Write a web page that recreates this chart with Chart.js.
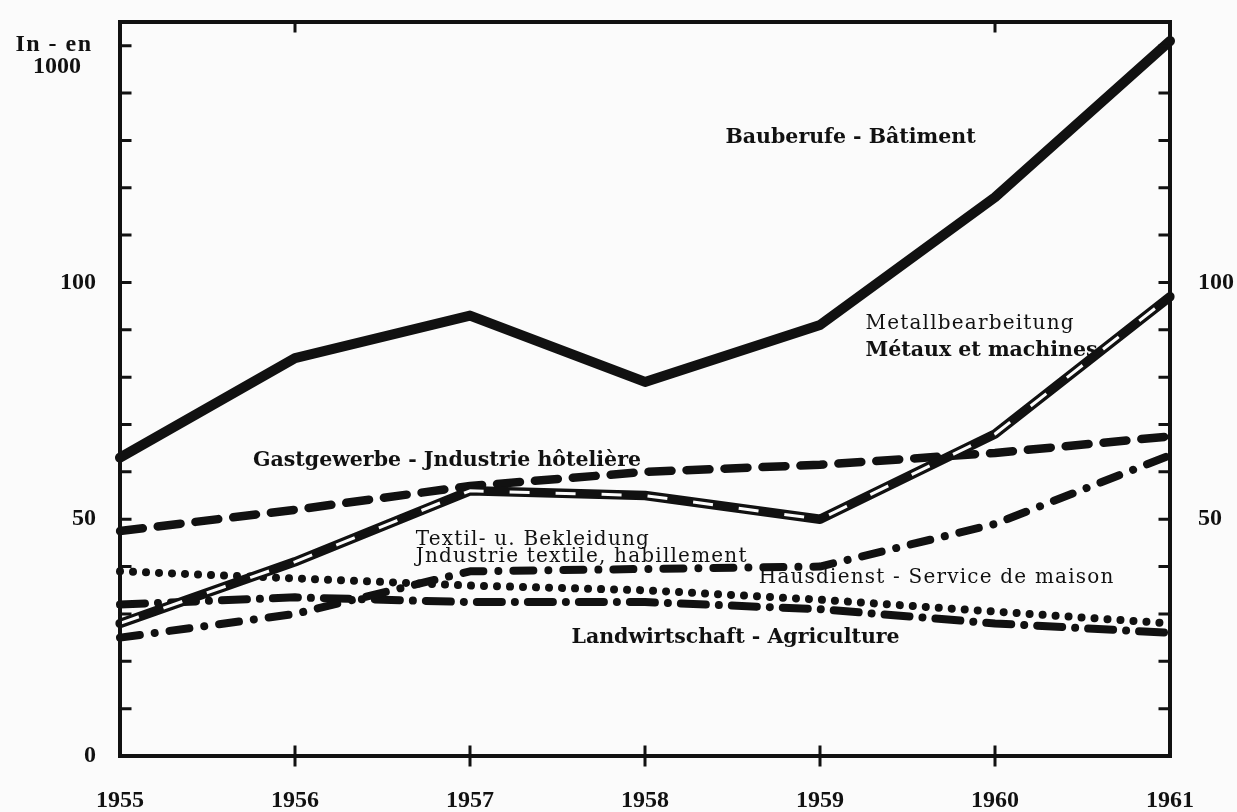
<!DOCTYPE html>
<html>
<head>
<meta charset="utf-8">
<title>Bauberufe 1955-1961</title>
<script src="https://cdn.jsdelivr.net/npm/chart.js@4.4.1/dist/chart.umd.min.js"></script>
<style>
  html, body { margin: 0; padding: 0; background: #fbfbfb; }
  #wrap { width: 1237px; height: 812px; }
</style>
</head>
<body>
<div id="wrap"><canvas id="chart"></canvas></div>
<script>
/* ================================
   Data (in thousands)
================================ */
const years = ["1955", "1956", "1957", "1958", "1959", "1960", "1961"];

const bauberufe      = [63, 84, 93, 79, 91, 118, 151];
const metall         = [28, 41, 56, 55, 50, 68, 97];
const gastgewerbe    = [47.5, 52, 57, 60, 61.5, 64, 67.5];
const textil         = [39, 37.5, 36, 35, 33, 30.5, 28];
const hausdienst     = [25, 30, 39, 39.5, 40, 49, 63.5];
const landwirtschaft = [32, 33.5, 32.5, 32.5, 31, 28, 26];

const leftTickLabels  = [0, 50, 100];
const rightTickLabels = [50, 100, 150];
const topTickYears    = ["1956", "1960"];

// series captions, placed in data units (x = year index, y = value)
const captions = [
  { text: "Bauberufe - Bâtiment", x: 3.46, y: 130.5, bold: true },
  { text: "Metallbearbeitung", x: 4.26, y: 91.3, bold: false },
  { text: "Métaux et machines", x: 4.26, y: 85.6, bold: true },
  { text: "Gastgewerbe - Jndustrie hôtelière", x: 0.76, y: 62.3, bold: true },
  { text: "Textil- u. Bekleidung", x: 1.69, y: 45.6, bold: false },
  { text: "Jndustrie textile, habillement", x: 1.69, y: 42.1, bold: false },
  { text: "Hausdienst - Service de maison", x: 3.65, y: 37.6, bold: false },
  { text: "Landwirtschaft - Agriculture", x: 2.58, y: 24.9, bold: true }
];

const INK = "#111";
const PAPER = "#fbfbfb";
const SERIF = "'DejaVu Serif', 'Liberation Serif', serif";
const TICK_FONT = { family: "'Liberation Serif', serif", weight: "bold", size: 24 };

/* ================================
   Frame + inward ticks + captions
================================ */
const framePlugin = {
  id: "frame",
  afterDatasetsDraw(chart) {
    const { ctx, chartArea: a, scales } = chart;
    const y = scales.y;
    const x = scales.x;

    ctx.save();
    ctx.strokeStyle = INK;
    ctx.lineWidth = 4;
    ctx.lineCap = "square";
    ctx.strokeRect(a.left, a.top, a.right - a.left, a.bottom - a.top);

    ctx.lineWidth = 3;
    ctx.beginPath();
    for (let v = 10; v <= 150; v += 10) {
      const py = y.getPixelForValue(v);
      ctx.moveTo(a.left, py);
      ctx.lineTo(a.left + 10, py);
      ctx.moveTo(a.right, py);
      ctx.lineTo(a.right - 10, py);
    }
    years.forEach((yr, i) => {
      if (i === 0 || i === years.length - 1) return;
      const px = x.getPixelForValue(i);
      ctx.moveTo(px, a.bottom - 9);
      ctx.lineTo(px, a.bottom + 9);
    });
    topTickYears.forEach(yr => {
      const px = x.getPixelForValue(years.indexOf(yr));
      ctx.moveTo(px, a.top);
      ctx.lineTo(px, a.top + 9);
    });
    ctx.stroke();

    // unit label
    ctx.fillStyle = INK;
    ctx.textAlign = "center";
    ctx.textBaseline = "middle";
    ctx.font = "bold 24px 'Liberation Serif', serif";
    ctx.letterSpacing = "1.5px";
    ctx.fillText("In - en", a.left - 66, a.top + 23);
    ctx.letterSpacing = "0px";
    ctx.fillText("1000", a.left - 63, a.top + 45);

    // captions
    ctx.textAlign = "left";
    captions.forEach(c => {
      if (c.bold) {
        ctx.font = "bold 20.5px " + SERIF;
        ctx.letterSpacing = "0px";
      } else {
        ctx.font = "20px " + SERIF;
        ctx.letterSpacing = "1.2px";
      }
      ctx.fillText(c.text, x.getPixelForValue(c.x), y.getPixelForValue(c.y));
    });
    ctx.restore();
  }
};

/* ================================
   Datasets
   (Chart.js paints the first dataset on top)
================================ */
function line(data, width, dash, extra = {}) {
  return {
    data,
    borderColor: INK,
    borderWidth: width,
    borderDash: dash,
    borderCapStyle: "round",
    borderJoinStyle: "round",
    pointRadius: 0,
    tension: 0,
    fill: false,
    ...extra
  };
}

const datasets = [
  line(bauberufe, 10, []),
  line(metall, 3, [20, 26], { borderColor: PAPER, borderCapStyle: "butt" }),
  line(metall, 9.5, []),
  line(gastgewerbe, 8.5, [23, 15]),
  line(textil, 8, [0.01, 13]),
  line(hausdienst, 8, [20, 15, 0.01, 15]),
  line(landwirtschaft, 8, [25, 13, 0.01, 13])
];

/* ================================
   Chart
================================ */
new Chart(document.getElementById("chart"), {
  type: "line",
  data: { labels: years, datasets },
  options: {
    responsive: true,
    maintainAspectRatio: false,
    animation: false,
    layout: { padding: { top: 22, left: 0, right: 0, bottom: 0 } },
    plugins: {
      legend: { display: false },
      tooltip: { enabled: false }
    },
    scales: {
      x: {
        offset: false,
        grid: { display: false, drawTicks: false },
        border: { display: false },
        ticks: { color: INK, font: TICK_FONT, padding: 30, maxRotation: 0 },
        afterFit: s => { s.height = 56; s.paddingLeft = 0; s.paddingRight = 0; }
      },
      y: {
        position: "left",
        min: 0,
        max: 155,
        grid: { display: false, drawTicks: false },
        border: { display: false },
        ticks: {
          stepSize: 10,
          color: INK,
          font: TICK_FONT,
          padding: 24,
          callback: v => (leftTickLabels.includes(v) ? v : "")
        },
        afterFit: s => { s.width = 120; s.paddingTop = 0; s.paddingBottom = 0; }
      },
      y2: {
        position: "right",
        min: 0,
        max: 155,
        grid: { display: false, drawTicks: false },
        border: { display: false },
        ticks: {
          stepSize: 10,
          color: INK,
          font: TICK_FONT,
          padding: 28,
          callback: v => (rightTickLabels.includes(v) ? v : "")
        },
        afterFit: s => { s.width = 67; s.paddingTop = 0; s.paddingBottom = 0; }
      }
    }
  },
  plugins: [framePlugin]
});
</script>
</body>
</html>
